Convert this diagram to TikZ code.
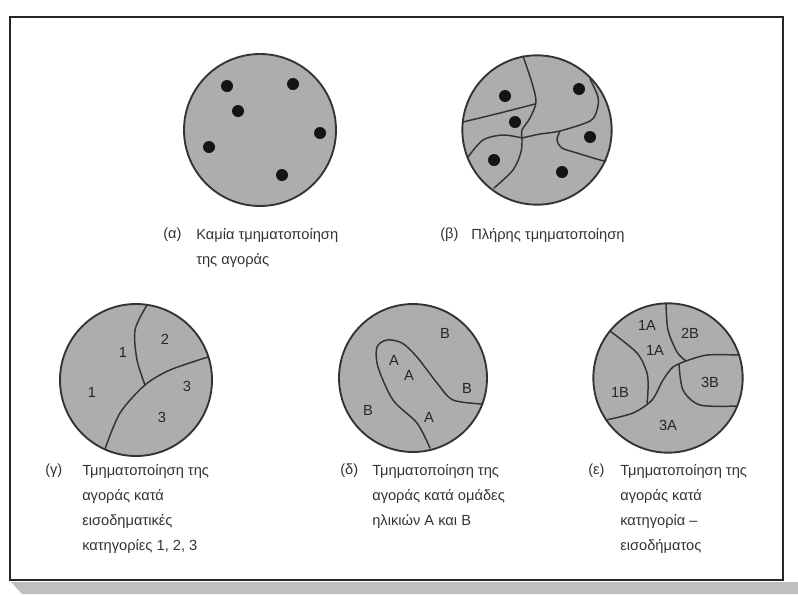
\documentclass[tikz,border=0pt]{standalone}
\usepackage{fontspec}
\setmainfont{Liberation Sans}
\usetikzlibrary{positioning}

\begin{document}
\begin{tikzpicture}[x=0.75pt, y=-0.75pt,
  disc/.style={draw=black!80, line width=1.4pt, fill=black!32},
  seg/.style={draw=black!80, line width=1.1pt, line cap=round},
  spot/.style={fill=black!92},
  num/.style={font=\fontsize{11}{13}\selectfont, text=black!85, inner sep=0pt},
  tag/.style={font=\fontsize{11}{18.75}\selectfont, text=black!80,
              anchor=north west, inner sep=0pt},
  captxt/.style={tag, align=left}
]
\useasboundingbox (0,0) rectangle (798,594);
% frame and shadow strip
\fill[black!25] (11,582) -- (798,582) -- (798,594) -- (22,594) -- cycle;
\draw[black!85, line width=1.6pt] (10,17) rectangle (783,580);

% (a) no segmentation
\coordinate (ca) at (260,130);
\draw[disc] (ca) circle[radius=57pt];
\foreach \p in {(227,86),(293,84),(238,111),(320,133),(209,147),(282,175)}
  \fill[spot] \p circle[radius=4.5pt];
\node[tag] (tga) at (163,228) {(α)};
\node[captxt] (txa) at (196,228) {Καμία τμηματοποίηση\\της αγοράς};

% (b) complete segmentation
\coordinate (cb) at (537,130);
\draw[disc] (cb) circle[radius=56pt];
\foreach \p in {(505,96),(579,89),(515,122),(590,137),(494,160),(562,172)}
  \fill[spot] \p circle[radius=4.5pt];
\draw[seg] plot[smooth] coordinates {(523,56) (532,83) (536,102) (530,118) (522,130) (522,138)};
\draw[seg] plot[smooth] coordinates {(463,122) (500,113) (535,104)};
\draw[seg] plot[smooth] coordinates {(468,157) (483,140) (503,135) (522,138)};
\draw[seg] plot[smooth] coordinates {(522,138) (521,152) (513,170) (494,188)};
\draw[seg] plot[smooth] coordinates {(522,138) (540,134) (560,131) (590,121) (597,110) (598,97) (590,79)};
\draw[seg] plot[smooth] coordinates {(560,131) (557,140) (562,148) (577,153) (600,160) (606,161)};
\node[tag] (tgb) at (440,228) {(β)};
\node[captxt] (txb) at (471,228) {Πλήρης τμηματοποίηση};

% (c) income categories
\coordinate (cc) at (136,380);
\draw[disc] (cc) circle[radius=57pt];
\draw[seg] plot[smooth] coordinates {(147,305) (135,330) (137,360) (145,385)};
\draw[seg] plot[smooth] coordinates {(105,449) (120,413) (145,385) (170,370) (208,357)};
\node[num] (c1a) at (123,352) {1};
\node[num] (c2) at (165,339) {2};
\node[num] (c1b) at (92,392) {1};
\node[num] (c3a) at (187,386) {3};
\node[num] (c3b) at (162,417) {3};
\node[tag] (tgc) at (45,464) {(γ)};
\node[captxt] (txc) at (82,464) {Τμηματοποίηση της\\αγοράς κατά\\εισοδηματικές\\κατηγορίες 1, 2, 3};

% (d) age groups
\coordinate (cd) at (413,378);
\draw[disc] (cd) circle[radius=55.5pt];
\draw[seg] plot[smooth] coordinates {(430,448) (417,423) (393,400) (378,367) (377,347) (387,340) (402,343) (417,357) (437,383) (453,400) (483,404)};
\node[num] (dB1) at (445,333) {B};
\node[num] (dA1) at (394,360) {A};
\node[num] (dA2) at (409,375) {A};
\node[num] (dB2) at (467,388) {B};
\node[num] (dB3) at (368,410) {B};
\node[num] (dA3) at (429,417) {A};
\node[tag] (tgd) at (340,464) {(δ)};
\node[captxt] (txd) at (372,464) {Τμηματοποίηση της\\αγοράς κατά ομάδες\\ηλικιών A και B};

% (e) age-income
\coordinate (ce) at (668,378);
\draw[disc] (ce) circle[radius=56pt];
\draw[seg] plot[smooth] coordinates {(666,304) (668,330) (677,352) (686,361)};
\draw[seg] plot[smooth] coordinates {(686,361) (707,355) (739,355)};
\draw[seg] plot[smooth] coordinates {(686,361) (673,367) (663,380) (652,400) (633,413) (606,420)};
\draw[seg] plot[smooth] coordinates {(610,331) (637,353) (647,373) (648,390) (647,403)};
\draw[seg] plot[smooth] coordinates {(679,364) (683,390) (700,405) (737,406)};
\node[num] (e1A) at (647,325) {1A};
\node[num] (e2B) at (690,333) {2B};
\node[num] (e1Ab) at (655,350) {1A};
\node[num] (e3B) at (710,382) {3B};
\node[num] (e1B) at (620,392) {1B};
\node[num] (e3A) at (668,425) {3A};
\node[tag] (tge) at (588,464) {(ε)};
\node[captxt] (txe) at (620,464) {Τμηματοποίηση της\\αγοράς κατά\\κατηγορία –\\εισοδήματος};
\end{tikzpicture}
\end{document}
